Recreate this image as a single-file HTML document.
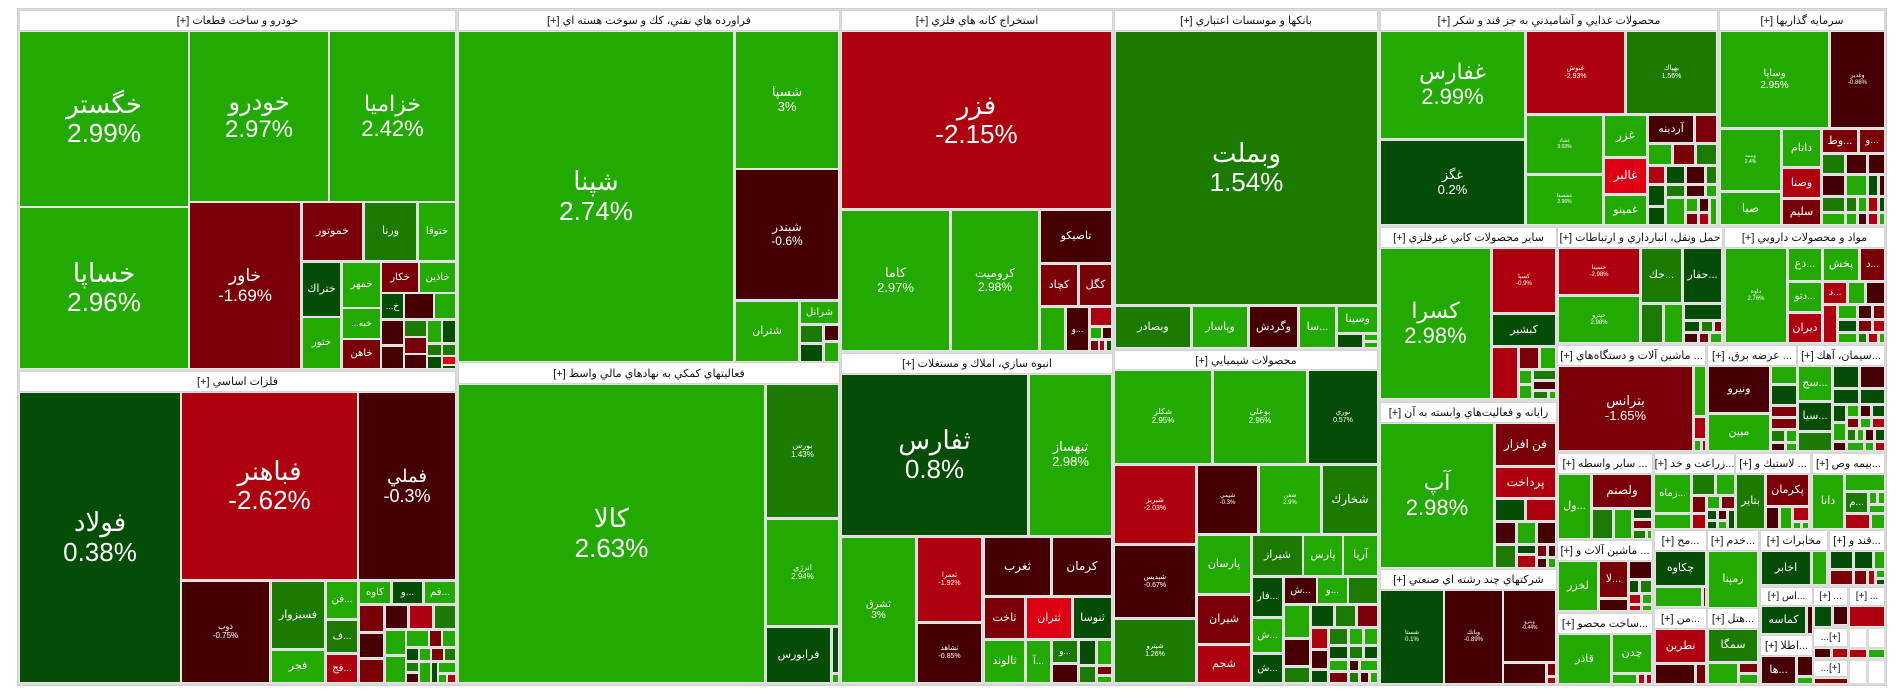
<!DOCTYPE html>
<html><head><meta charset="utf-8">
<style>
html,body{margin:0;padding:0;background:#fff;width:1904px;height:698px;overflow:hidden}
#map{position:relative;width:1904px;height:698px}
.hd{position:absolute;box-sizing:border-box;background:#fff;border:1px solid #d4d4d4;font:11px "Liberation Sans","DejaVu Sans",sans-serif;color:#111;text-align:center;direction:rtl;white-space:nowrap;overflow:hidden;display:flex;align-items:center;justify-content:center}
.tl{position:absolute;box-sizing:border-box;border:1px solid #e4e4e4;color:#fff;font-family:"Liberation Sans","DejaVu Sans",sans-serif;text-align:center;display:flex;flex-direction:column;align-items:center;justify-content:center;overflow:hidden;line-height:1.12;white-space:nowrap}
.tl span{display:block}
</style></head>
<body>
<div id="map"></div>
<script>
const C={G:'#22aa00',M:'#1b7b00',D:'#054d04',R:'#ae000e',K:'#7a0008',X:'#460004',B:'#dc0012',W:'#ffffff'};
const sectors=[
[19,10,455,30,"خودرو و ساخت قطعات [+]"],
[19,371,455,391,"فلزات اساسي [+]"],
[458,10,839,30,"فراورده هاي نفتي، كك و سوخت هسته اي [+]"],
[458,362,839,383,"فعاليتهاي كمكي به نهادهاي مالي واسط [+]"],
[841,10,1112,30,"استخراج كانه هاي فلزي [+]"],
[841,353,1112,373,"انبوه سازي، املاك و مستغلات [+]"],
[1114,10,1377,30,"بانكها و موسسات اعتباري [+]"],
[1114,350,1377,369,"محصولات شيميايي [+]"],
[1380,10,1717,30,"محصولات غذايي و آشاميدني به جز قند و شكر [+]"],
[1719,10,1884,30,"سرمايه گذاريها [+]"],
[1380,227,1556,247,"ساير محصولات كاني غيرفلزي [+]"],
[1557,227,1722,247,"حمل ونقل، انبارداري و ارتباطات [+]"],
[1724,227,1884,247,"مواد و محصولات دارويي [+]"],
[1380,402,1556,422,"رايانه و فعاليت‌هاي وابسته به آن [+]"],
[1380,569,1556,589,"شركتهاي چند رشته اي صنعتي [+]"],
[1557,345,1705,365,"... ماشين آلات و دستگاه‌هاي [+]"],
[1707,345,1796,365,"... عرضه برق، [+]"],
[1797,345,1884,365,"...سيمان، آهك [+]"],
[1557,453,1652,473,"... ساير واسطه [+]"],
[1654,453,1734,473,"...زراعت و خد [+]"],
[1735,453,1810,473,"... لاستيك و [+]"],
[1812,453,1884,473,"...بيمه وص [+]"],
[1557,540,1652,560,"... ماشين آلات و [+]"],
[1557,613,1652,633,"...ساخت محصو [+]"],
[1654,530,1706,550,"...مح [+]"],
[1707,530,1758,550,"...خدم [+]"],
[1760,530,1827,550,"مخابرات [+]"],
[1829,530,1884,550,"...قند و [+]"],
[1654,608,1706,628,"...من [+]"],
[1707,608,1758,628,"...هتل [+]"],
[1760,587,1812,605,"...اس [+]"],
[1813,587,1847,605,"... [+]"],
[1849,587,1884,605,"... [+]"],
[1760,635,1812,655,"...اطلا [+]"],
[1813,628,1847,646,"[+]..."],
[1813,660,1847,676,"[+]..."]
];
const tiles=[
// sector 1
[19,31,188,206,'G','خگستر','2.99%',26],[19,207,188,368,'G','خساپا','2.96%',26],
[189,31,328,201,'G','خودرو','2.97%',24],[329,31,455,201,'G','خزاميا','2.42%',22],
[189,202,300,368,'K','خاور','-1.69%',17],[302,202,362,260,'K','خموتور','',11],
[364,202,416,260,'M','ورنا','',11],[418,202,455,260,'G','ختوقا','',10],
[302,262,340,316,'D','ختراك','',11],[342,262,380,307,'G','خمهر','',10],
[381,262,418,292,'K','خكار','',10],[419,262,455,292,'G','خاذين','',10],
[381,293,403,318,'D','خ...','',9],[404,293,433,318,'X'],[434,293,455,318,'G'],
[302,317,340,368,'G','ختور','',10],[342,308,380,338,'G','خبه...','',9],[342,339,380,368,'K','خاهن','',10],
[381,320,403,344,'X'],[404,320,426,336,'M'],[427,320,441,342,'G'],[442,320,455,342,'D'],
[381,346,403,368,'X'],[404,337,426,353,'K'],[404,354,426,368,'X'],[427,344,441,355,'M'],
[442,344,455,355,'M'],[442,356,455,364,'B'],[427,356,441,368,'D'],[442,365,455,368,'D'],
// sector 2
[19,392,180,682,'D','فولاد','0.38%',26],[181,392,357,579,'R','فباهنر','-2.62%',26],
[358,392,455,579,'X','فملي','-0.3%',18],[181,581,269,682,'X','ذوب','-0.75%',8],
[271,581,324,648,'M','فسبزوار','',11],[271,650,324,682,'G','فجر','',11],
[326,581,357,618,'G','...فن','',10],[326,620,357,652,'M','...ف','',10],[326,654,357,682,'R','...فج','',10],
[359,581,390,603,'G','كاوه','',10],[392,581,422,603,'D','...و','',10],[424,581,455,603,'G','...فم','',10],
[359,605,383,631,'K'],[385,605,407,628,'X'],[409,605,432,628,'R'],[434,605,455,628,'M'],
[359,633,383,657,'X'],[359,659,383,682,'K'],[385,630,405,654,'G'],[406,630,428,646,'G'],
[429,630,441,646,'K'],[442,630,455,646,'G'],[385,656,405,682,'G'],[406,648,418,660,'D'],
[419,648,430,660,'G'],[431,648,443,660,'K'],[444,648,455,660,'M'],[406,662,418,671,'M'],
[406,673,418,682,'X'],[419,662,430,682,'G'],[431,662,437,682,'D'],[438,662,455,672,'G'],[447,674,455,682,'R'],[438,674,446,682,'G'],
// sector 3
[458,31,733,361,'G','شپنا','2.74%',26],[735,31,838,168,'G','شسپا','3%',13],
[735,169,838,299,'X','شبندر','-0.6%',12],[735,301,798,361,'G','شتران','',11],
[800,301,838,323,'G','شرانل','',10],[800,325,822,342,'M'],[824,325,838,340,'X'],
[800,344,822,361,'D'],[824,342,838,361,'G'],
// sector 4
[458,384,764,682,'G','كالا','2.63%',26],[766,384,838,517,'M','بورس','1.43%',8],
[766,519,838,625,'G','انرژي','2.94%',8],[766,627,830,682,'D','فرابورس','',11],
[832,627,838,672,'D'],[832,674,838,682,'G'],
// sector 5
[841,31,1111,208,'R','فزر','-2.15%',26],[841,210,949,350,'G','كاما','2.97%',13],
[951,210,1038,350,'G','كروميت','2.98%',12],[1040,210,1111,262,'X','تاصيكو','',11],
[1040,264,1077,305,'K','كچاد','',11],[1079,264,1111,305,'K','كگل','',11],
[1040,307,1064,350,'G'],[1066,307,1088,350,'X','...و','',9],[1090,307,1111,325,'R'],
[1090,327,1101,338,'G'],[1102,327,1111,338,'X'],[1090,340,1098,350,'K'],[1099,340,1104,350,'R'],[1106,340,1111,350,'D'],
// sector 6
[841,374,1027,535,'D','ثفارس','0.8%',26],[1029,374,1111,535,'G','ثبهساز','2.98%',13],
[841,537,915,682,'G','ثشرق','3%',10],[917,537,981,621,'R','ثعمرا','-1.92%',7],
[917,623,981,682,'X','ثشاهد','-0.85%',7],[984,537,1050,595,'X','ثغرب','',12],
[1052,537,1111,595,'X','كرمان','',12],[984,597,1024,638,'K','ثاخت','',11],
[1026,597,1071,638,'B','ثتران','',11],[1073,597,1111,638,'D','ثنوسا','',11],
[984,640,1024,682,'G','ثالوند','',11],[1026,640,1050,682,'G','...آ','',10],
[1052,640,1077,662,'M','...و','',9],[1052,664,1077,682,'X'],
[1079,640,1095,664,'D'],[1097,640,1111,664,'G'],[1079,666,1095,682,'M'],[1097,666,1111,674,'K'],[1097,676,1111,682,'G'],
// sector 7
[1115,31,1377,304,'M','وبملت','1.54%',26],[1115,306,1190,347,'M','وبصادر','',11],
[1192,306,1247,347,'G','وپاسار','',11],[1249,306,1297,347,'X','وگردش','',11],
[1299,306,1335,347,'G','...سا','',11],[1337,306,1377,332,'G','وسينا','',11],
[1337,334,1362,347,'D'],[1364,334,1377,340,'G'],[1364,342,1377,347,'G'],
// sector 8
[1114,370,1211,463,'G','شكلر','2.95%',8],[1213,370,1306,463,'G','بوعلي','2.96%',8],
[1308,370,1377,463,'D','نوري','0.57%',7],[1114,465,1195,543,'R','شبريز','-2.03%',7],
[1114,545,1195,617,'X','شپديس','-0.67%',7],[1114,619,1195,682,'M','شپترو','1.26%',7],
[1197,465,1257,533,'X','شيمي','-0.3%',6],[1259,465,1320,533,'G','شفن','2.9%',6],
[1322,465,1377,533,'M','شخارك','',12],[1197,535,1250,593,'G','پارسان','',11],
[1252,535,1302,575,'M','شيراز','',11],[1303,535,1342,575,'G','پارس','',11],
[1343,535,1377,575,'G','آريا','',11],[1197,595,1250,643,'K','شيران','',11],
[1197,645,1250,682,'R','شجم','',11],[1252,577,1282,616,'D','...فار','',10],
[1252,618,1282,652,'G','...ش','',10],[1252,654,1282,682,'D','...ش','',10],
[1284,577,1316,603,'X','...ش','',10],[1317,577,1347,603,'G','...و','',10],[1348,577,1377,603,'M'],
[1284,605,1309,637,'G'],[1311,605,1333,626,'D'],[1335,605,1355,626,'M'],[1357,605,1377,626,'K'],
[1284,639,1309,665,'X'],[1284,667,1309,682,'M'],[1311,628,1327,648,'R'],[1311,650,1327,668,'X'],[1311,670,1327,682,'D'],
[1329,628,1347,644,'M'],[1349,628,1362,644,'G'],[1364,628,1377,644,'G'],[1329,646,1347,658,'D'],
[1349,646,1362,658,'M'],[1364,646,1377,658,'D'],[1329,660,1347,670,'G'],[1349,660,1358,670,'X'],
[1360,660,1377,670,'G'],[1329,672,1347,682,'K'],[1349,672,1358,682,'M'],[1360,672,1368,682,'X'],[1370,672,1377,682,'G'],
// sector 9
[1380,31,1524,138,'G','غفارس','2.99%',22],[1380,140,1524,224,'D','غگز','0.2%',13],
[1526,31,1624,113,'R','غنوش','-2.93%',7],[1626,31,1716,113,'M','بهپاك','1.56%',7],
[1526,115,1602,173,'G','غشاد','3.03%',5],[1526,175,1602,224,'G','غشصفا','2.96%',5],
[1604,115,1646,156,'G','غزر','',12],[1604,158,1646,193,'B','غالبر','',12],
[1604,195,1646,224,'G','غمينو','',11],[1648,115,1693,142,'X','آردينه','',11],[1695,115,1716,142,'K'],
[1648,144,1671,164,'G'],[1673,144,1694,164,'K'],[1696,144,1716,164,'M'],
[1648,166,1664,183,'R'],[1666,166,1684,183,'D'],[1686,166,1704,183,'X'],[1706,166,1716,183,'M'],
[1648,185,1664,205,'D'],[1666,185,1684,196,'M'],[1686,185,1704,196,'X'],[1706,185,1716,196,'G'],
[1648,207,1664,224,'D'],[1666,198,1684,224,'G'],[1686,198,1697,211,'G'],[1699,198,1708,211,'X'],
[1699,213,1708,224,'R'],[1710,198,1716,224,'G'],[1686,213,1697,224,'K'],
// sector 10
[1720,31,1828,127,'G','وساپا','2.95%',10],[1830,31,1884,127,'X','وغدير','-0.86%',6],
[1720,129,1780,190,'G','وبيمه','2.4%',5],[1720,192,1780,224,'G','صبا','',12],
[1782,129,1820,166,'G','داتام','',11],[1782,168,1820,197,'R','وصنا','',11],
[1782,199,1820,224,'K','سليم','',11],[1822,129,1857,152,'K','...وط','',11],[1859,129,1884,152,'K','...و','',10],
[1822,154,1844,173,'M'],[1846,154,1866,173,'X'],[1868,154,1884,173,'X'],
[1822,175,1844,195,'X'],[1846,175,1866,195,'G'],[1868,175,1877,195,'D'],[1879,175,1884,195,'X'],
[1822,197,1844,211,'M'],[1822,213,1844,224,'G'],[1846,197,1856,211,'M'],[1858,197,1866,211,'G'],
[1868,197,1877,211,'R'],[1879,197,1884,211,'D'],[1846,213,1856,224,'G'],[1858,213,1866,224,'X'],
[1868,213,1877,224,'R'],[1879,213,1884,224,'G'],
// sector 11
[1380,248,1490,398,'G','كسرا','2.98%',22],[1492,248,1555,312,'R','كسپا','-0.9%',6],
[1492,314,1555,345,'D','كبشير','',11],[1492,347,1517,398,'R'],[1519,347,1538,368,'K'],
[1540,347,1555,368,'G'],[1519,370,1531,383,'G'],[1533,370,1555,379,'M'],[1533,381,1555,389,'X'],
[1519,385,1531,398,'G'],[1533,391,1547,398,'M'],[1549,391,1555,398,'G'],
// sector 12
[1558,248,1639,294,'R','حسينا','-2.98%',6],[1558,296,1639,342,'G','حپترو','2.98%',6],
[1641,248,1681,302,'M','...حك','',11],[1683,248,1721,302,'D','...حفار','',11],
[1641,304,1662,342,'M'],[1664,304,1682,342,'G'],[1684,304,1721,319,'D'],[1684,321,1699,331,'D'],
[1701,321,1712,331,'M'],[1714,321,1721,331,'K'],[1684,333,1697,342,'X'],[1699,333,1708,342,'K'],[1710,333,1721,342,'G'],
// sector 13
[1725,248,1786,342,'G','داوه','2.76%',6],[1788,248,1821,280,'G','...دع','',11],
[1823,248,1858,280,'G','پخش','',11],[1860,248,1884,280,'K','...د','',10],
[1788,282,1821,311,'G','...دتو','',10],[1788,313,1821,342,'R','ديران','',11],
[1823,282,1846,303,'R','...د','',10],[1848,282,1864,303,'G'],[1866,282,1884,303,'X'],
[1823,305,1836,342,'R'],[1838,305,1856,318,'G'],[1858,305,1871,318,'X'],[1873,305,1884,318,'K'],
[1838,320,1856,331,'D'],[1838,333,1856,342,'G'],[1858,320,1871,331,'K'],[1873,320,1884,331,'R'],
[1858,333,1866,342,'M'],[1868,333,1877,342,'R'],[1879,333,1884,342,'G'],
// sector 14
[1380,423,1493,567,'G','آپ','2.98%',22],[1495,423,1555,465,'K','فن افزار','',12],
[1495,467,1555,497,'R','پرداخت','',12],[1495,499,1524,520,'D'],[1526,499,1555,520,'R'],
[1495,522,1515,543,'X'],[1517,522,1535,543,'G'],[1537,522,1555,543,'X'],
[1495,545,1515,567,'M'],[1517,545,1535,553,'D'],[1537,545,1546,556,'K'],[1548,545,1555,556,'X'],
[1517,555,1535,567,'R'],[1537,558,1546,567,'X'],[1548,558,1555,567,'G'],
// sector 15
[1380,590,1443,683,'D','شستا','0.1%',6],[1444,590,1502,683,'X','وبانك','-0.89%',6],
[1503,590,1555,661,'X','وپترو','-0.44%',5],[1503,663,1545,683,'X'],[1547,663,1555,675,'K'],[1547,677,1555,683,'R'],
// sector 16
[1558,366,1692,450,'K','بترانس','-1.65%',13],[1694,366,1705,415,'G'],[1694,417,1705,438,'R'],
[1694,440,1700,450,'G'],[1702,440,1705,450,'R'],
// sector 17
[1708,366,1769,412,'X','ونيرو','',11],[1708,414,1769,450,'G','مبين','',11],
[1771,366,1796,383,'G'],[1771,385,1796,404,'D'],[1771,406,1796,416,'K'],[1771,418,1796,428,'K'],
[1771,430,1784,441,'M'],[1786,430,1796,441,'G'],[1771,443,1784,450,'X'],[1786,443,1796,450,'G'],
// sector 18
[1798,366,1831,400,'G','...سج','',11],[1798,402,1831,430,'D','...سيا','',11],[1798,432,1831,450,'M'],
[1833,366,1858,387,'D'],[1860,366,1884,387,'X'],[1833,389,1858,403,'D'],[1860,389,1884,403,'D'],
[1833,405,1845,421,'D'],[1847,405,1858,416,'G'],[1860,405,1870,416,'X'],[1872,405,1884,416,'D'],
[1847,418,1858,427,'K'],[1860,418,1870,427,'G'],[1872,418,1884,427,'R'],
[1833,423,1845,440,'G'],[1833,442,1845,450,'X'],[1847,429,1855,440,'M'],[1857,429,1863,440,'G'],
[1865,429,1873,440,'X'],[1875,429,1884,440,'D'],[1847,442,1863,450,'G'],[1865,442,1873,450,'G'],[1875,442,1884,450,'R'],
// sector 19
[1558,474,1590,538,'G','...ول','',11],[1592,474,1651,507,'K','ولصنم','',12],
[1592,509,1612,538,'M'],[1614,509,1631,538,'G'],[1633,509,1651,518,'D'],[1633,520,1651,528,'K'],
[1633,530,1645,538,'M'],[1647,530,1651,538,'G'],
// sector 20
[1654,474,1690,512,'G','...زماه','',10],[1654,514,1690,528,'G'],[1692,474,1714,494,'M'],[1716,474,1734,494,'G'],
[1692,496,1705,512,'K'],[1707,496,1719,508,'G'],[1721,496,1734,508,'K'],[1692,514,1705,528,'R'],
[1707,510,1716,519,'D'],[1718,510,1726,519,'X'],[1728,510,1734,528,'D'],[1707,521,1716,528,'D'],[1718,521,1726,528,'G'],
// sector 21
[1736,474,1764,528,'M','بتاير','',11],[1766,474,1808,505,'K','پكرمان','',11],
[1766,507,1778,528,'X'],[1780,507,1791,528,'G'],[1793,507,1808,520,'R'],[1793,522,1800,528,'G'],[1802,522,1808,528,'G'],
// sector 22
[1812,474,1843,528,'G','دانا','',11],[1845,474,1884,490,'G'],[1845,492,1867,512,'M','...م','',10],
[1869,492,1876,503,'G'],[1878,492,1884,503,'G'],[1869,505,1884,512,'G'],[1845,514,1869,528,'R'],[1871,514,1884,528,'G'],
// sector 23
[1558,561,1597,610,'G','لخزر','',11],[1599,561,1627,597,'K','...لا','',11],
[1629,561,1651,578,'X'],[1629,580,1638,592,'D'],[1640,580,1651,592,'M'],[1629,594,1640,603,'R'],
[1642,594,1651,603,'G'],[1599,599,1627,610,'X'],[1629,605,1640,610,'R'],[1642,605,1651,610,'G'],
// sector 24
[1558,634,1610,683,'G','قاذر','',11],[1612,634,1651,672,'G','چدن','',11],
[1612,674,1636,683,'G'],[1638,674,1644,683,'R'],[1646,674,1651,683,'R'],
// sectors 25-36
[1655,551,1705,585,'D','چكاوه','',11],[1655,587,1701,606,'G'],[1703,587,1705,606,'K'],
[1708,551,1757,607,'G','رمپنا','',11],
[1761,551,1810,584,'D','اخابر','',11],[1812,551,1826,584,'G'],
[1830,551,1852,568,'D'],[1854,551,1872,568,'D'],[1874,551,1884,568,'G'],
[1830,570,1852,584,'K'],[1854,570,1866,584,'K'],[1868,570,1874,584,'R'],[1876,570,1884,577,'G'],[1876,579,1884,584,'D'],
[1655,629,1705,662,'R','نطرين','',11],[1655,664,1694,683,'X'],[1696,664,1705,683,'K'],
[1708,629,1757,661,'M','سمگا','',11],[1708,663,1737,683,'G'],[1739,663,1757,672,'K'],[1739,674,1757,683,'G'],
[1761,606,1805,633,'D','كماسه','',11],[1807,606,1812,633,'X'],
[1814,606,1831,626,'D'],[1833,606,1847,624,'X'],
[1849,606,1884,626,'R'],
[1761,656,1795,683,'X','...ها','',11],[1797,656,1812,675,'X'],[1797,677,1812,683,'G'],
[1814,648,1830,657,'X'],[1832,648,1847,657,'R'],
[1849,628,1866,647,'W'],[1868,628,1884,647,'W'],[1849,649,1866,657,'R'],[1868,649,1884,657,'G'],
[1814,678,1847,683,'K'],[1849,660,1866,683,'W'],[1868,660,1884,683,'W']
];
const map=document.getElementById('map');
const frame=document.createElement('div');
frame.style.cssText='position:absolute;left:17px;top:8px;width:1870px;height:678px;border:1px solid #d0d0d0;background:#dcdcdc;box-sizing:border-box';


map.appendChild(frame);
sectors.forEach(s=>{
  const d=document.createElement('div');
  d.className='hd';
  
  
  d.style.left=s[0]+'px';d.style.top=s[1]+'px';
  d.style.width=(s[2]-s[0]+1)+'px';d.style.height=(s[3]-s[1]+1)+'px';
  if(s[3]-s[1]<19)d.style.fontSize='10px';
  d.textContent=s[4];
  map.appendChild(d);
});
tiles.forEach(t=>{
  const d=document.createElement('div');
  d.className='tl';
  
  
  d.style.left=t[0]+'px';d.style.top=t[1]+'px';
  d.style.width=(t[2]-t[0]+1)+'px';d.style.height=(t[3]-t[1]+1)+'px';
  d.style.background=C[t[4]];
  if(t[4]==='W')d.style.border='1px solid #dcdcdc';
  if(t[5]){
    d.style.fontSize=t[7]+'px';
    const n=document.createElement('span');
    
    
    n.textContent=t[5];n.style.direction='rtl';
    d.appendChild(n);
    if(t[6]){
      const p=document.createElement('span');
      
      
      p.textContent=t[6];p.style.direction='ltr';
      d.appendChild(p);
    }
  }
  map.appendChild(d);
});
</script>
</body></html>
